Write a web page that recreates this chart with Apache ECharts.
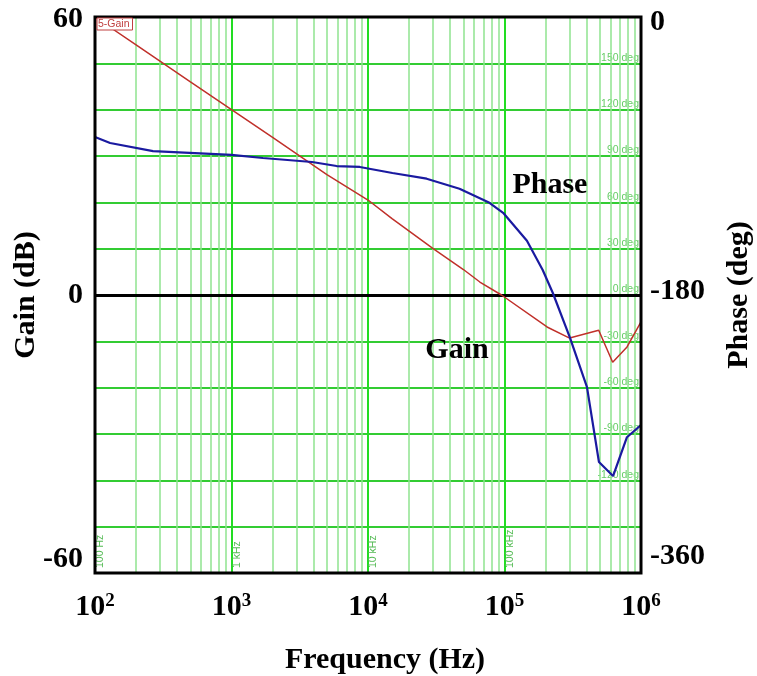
<!DOCTYPE html>
<html>
<head>
<meta charset="utf-8">
<script src="https://cdn.jsdelivr.net/npm/echarts@6/dist/echarts.min.js"></script>
<style>html,body{margin:0;padding:0;background:#fff;}#c{width:757px;height:676px;}</style>
</head>
<body>
<div id="c"></div>
<script>
// ---- data ----
const freqGain = [100, 200, 500, 1000, 2000, 5000, 10000, 15000, 30000, 50000, 66000, 95000, 205000, 300000, 490000, 620000, 790000, 1000000];
const gainDb   = [60, 54, 46, 40, 34, 26, 20.5, 16.5, 10, 5.5, 2.8, 0, -6.9, -9.3, -7.6, -14.5, -11.2, -5.8];

const freqPhase = [100, 129, 266, 1000, 1700, 3890, 5890, 8710, 15100, 26900, 46800, 77600, 97700, 146000, 190500, 226000, 302000, 402000, 492000, 624000, 789000, 1000000];
const phaseDeg  = [-77.7, -81.6, -86.8, -89.3, -91.3, -93.9, -96.5, -97.1, -101.0, -104.7, -111.2, -120.3, -126.8, -144.9, -163.8, -178.7, -207.8, -239.6, -288.1, -297.2, -272.1, -264.2];

const gainTickLabels  = [60, 0, -60];
const phaseTickLabels = [0, -180, -360];
const innerPhaseLabels = [150, 120, 90, 60, 30, 0, -30, -60, -90, -120];
const innerFreqLabels = {100: '100 Hz', 1000: '1 kHz', 10000: '10 kHz', 100000: '100 kHz'};
const minorMultipliers = [2, 3, 4, 5, 6, 7, 8, 9];
const decades = [100, 1000, 10000, 100000];
const annotations = [
  {text: 'Phase', f: 215000, g: 23.7},
  {text: 'Gain', f: 44900, g: -11.9}
];
const gainName = '5-Gain';
const phaseName = 'Phase';

// ---- build ----
const gainData = freqGain.map((f, i) => [f, gainDb[i]]);
const phaseData = freqPhase.map((f, i) => [f, phaseDeg[i]]);
const minorLines = [];
decades.forEach(d => minorMultipliers.forEach(m => minorLines.push({xAxis: d * m})));

const serif = '"Liberation Serif", "Times New Roman", serif';
const sans = 'Arial, "Liberation Sans", sans-serif';
const FS = 30;

const chart = echarts.init(document.getElementById('c'));
chart.setOption({
  animation: false,
  backgroundColor: '#fff',
  grid: {left: 95, right: 116, top: 17, bottom: 103, outerBoundsMode: 'none', containLabel: false,
         show: true, borderColor: '#000', borderWidth: 3, backgroundColor: 'transparent', z: 10},
  legend: {
    data: [gainName], left: 97, top: 18, itemWidth: 0, itemHeight: 0, itemGap: 0,
    icon: 'none', padding: [1, 3, 0, 0], borderColor: '#c04040', borderWidth: 1, backgroundColor: '#fff',
    textStyle: {color: '#c04040', fontSize: 10.5, fontFamily: sans, padding: [0, 0, 0, -4]},
    selectedMode: false, z: 20
  },
  xAxis: [
    {
      type: 'log', logBase: 10, min: 100, max: 1000000,
      name: 'Frequency (Hz)', nameLocation: 'middle', nameGap: 72,
      nameTextStyle: {fontFamily: serif, fontWeight: 'bold', fontSize: FS, color: '#000', padding: [0, 0, 0, 34]},
      axisLine: {show: false}, axisTick: {show: false},
      splitLine: {show: true, lineStyle: {color: '#22dd22', width: 2}},
      axisLabel: {
        margin: 19, color: '#000',
        formatter: v => { const e = String(Math.round(Math.log10(v))); return '{b|10}{s|' + e + '}'; },
        rich: {
          b: {fontFamily: serif, fontWeight: 'bold', fontSize: FS, color: '#000', lineHeight: 30},
          s: {fontFamily: serif, fontWeight: 'bold', fontSize: 19, color: '#000', verticalAlign: 'top', lineHeight: 30, padding: [0,0,12,0]}
        }
      }
    },
    {
      type: 'log', logBase: 10, min: 100, max: 1000000, position: 'bottom',
      axisLine: {show: false}, axisTick: {show: false}, splitLine: {show: false},
      axisLabel: {
        inside: true, rotate: 90, margin: 5, align: 'left', verticalAlign: 'top',
        color: '#55bb55', fontSize: 10.5, fontFamily: sans,
        formatter: v => innerFreqLabels[Math.round(v)] || ''
      }
    }
  ],
  yAxis: [
    {
      type: 'value', min: -60, max: 60, interval: 10, position: 'left',
      name: 'Gain (dB)', nameLocation: 'middle', nameGap: 54, nameRotate: 90, nameMoveOverlap: false,
      nameTextStyle: {fontFamily: serif, fontWeight: 'bold', fontSize: FS, color: '#000'},
      axisLine: {show: false}, axisTick: {show: false},
      splitLine: {show: true, lineStyle: {color: '#33cc33', width: 2}},
      axisLabel: {
        margin: 12, color: '#000', fontFamily: serif, fontWeight: 'bold', fontSize: FS,
        formatter: v => {
          if (!gainTickLabels.includes(v)) return '';
          if (v === -60) return '{m|' + v + '}';
          if (v === 60) return '{t|' + v + '}';
          return '{n|' + v + '}';
        },
        rich: {
          n: {fontFamily: serif, fontWeight: 'bold', fontSize: FS, color: '#000'},
          t: {fontFamily: serif, fontWeight: 'bold', fontSize: FS, color: '#000', padding: [5, 0, 0, 0]},
          m: {fontFamily: serif, fontWeight: 'bold', fontSize: FS, color: '#000', padding: [0, 0, 28, 0]}
        }
      }
    },
    {
      type: 'value', min: -360, max: 0, interval: 180, position: 'right',
      name: 'Phase (deg)', nameLocation: 'middle', nameGap: 83, nameRotate: 90,
      nameTextStyle: {fontFamily: serif, fontWeight: 'bold', fontSize: FS, color: '#000'},
      axisLine: {show: false}, axisTick: {show: false}, splitLine: {show: false},
      axisLabel: {
        margin: 9, color: '#000',
        formatter: v => {
          if (!phaseTickLabels.includes(v)) return '';
          if (v === -360) return '{m|' + v + '}';
          if (v === 0) return '{t|' + v + '}';
          return '{n|' + v + '}';
        },
        rich: {
          n: {fontFamily: serif, fontWeight: 'bold', fontSize: FS, color: '#000', padding: [0, 0, 8, 0]},
          t: {fontFamily: serif, fontWeight: 'bold', fontSize: FS, color: '#000', padding: [10, 0, 0, 0]},
          m: {fontFamily: serif, fontWeight: 'bold', fontSize: FS, color: '#000', padding: [0, 0, 34, 0]}
        }
      }
    },
    {
      type: 'value', min: -180, max: 180, interval: 30, position: 'right',
      axisLine: {show: false}, axisTick: {show: false}, splitLine: {show: false},
      axisLabel: {
        inside: true, margin: 2, verticalAlign: 'bottom',
        color: '#66cc66', fontSize: 10.5, fontFamily: sans,
        formatter: v => innerPhaseLabels.includes(v) ? v + ' deg' : ''
      }
    }
  ],
  series: [
    {
      name: gainName, type: 'line', xAxisIndex: 0, yAxisIndex: 0, data: gainData,
      showSymbol: false, symbol: 'none', z: 5,
      lineStyle: {color: '#c0302a', width: 1.5}, itemStyle: {color: '#c0302a'},
      markLine: {
        silent: true, symbol: 'none', label: {show: false}, z: 1,
        lineStyle: {color: '#8fe38f', width: 1.5, type: 'solid'},
        data: minorLines
      },
      markPoint: {
        silent: true, symbol: 'circle', symbolSize: 0,
        label: {show: true, position: 'inside', formatter: p => p.name, fontFamily: serif, fontWeight: 'bold', fontSize: FS, color: '#000'},
        data: annotations.map(a => ({name: a.text, coord: [a.f, a.g]}))
      }
    },
    {
      name: phaseName, type: 'line', xAxisIndex: 0, yAxisIndex: 1, data: phaseData,
      showSymbol: false, symbol: 'none', z: 6,
      lineStyle: {color: '#1a1aa0', width: 2.2}, itemStyle: {color: '#1a1aa0'},
      markLine: {
        silent: true, symbol: 'none', label: {show: false}, z: 2,
        lineStyle: {color: '#000', width: 3, type: 'solid'},
        data: [{yAxis: -180}]
      }
    }
  ]
});
</script>
</body>
</html>
